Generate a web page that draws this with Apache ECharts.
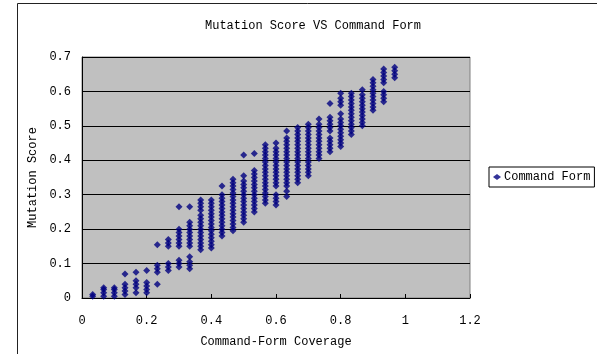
<!DOCTYPE html>
<html>
<head>
<meta charset="utf-8">
<script src="https://cdn.jsdelivr.net/npm/echarts@6/dist/echarts.min.js"></script>
<style>
  html, body { margin: 0; padding: 0; background: #fff; }
  #main_chart { width: 597px; height: 354px; }
</style>
</head>
<body>
<div id="main_chart"></div>
<script>
// command-form coverage of each column (k/30)
var coverage = [0.033, 0.067, 0.1, 0.133, 0.167, 0.2, 0.233, 0.267, 0.3, 0.333,
                0.367, 0.4, 0.433, 0.467, 0.5, 0.533, 0.567, 0.6, 0.633, 0.667,
                0.7, 0.733, 0.767, 0.8, 0.833, 0.867, 0.9, 0.933, 0.967];

// mutation scores, bottom to top
var scores = [
    [0.005, 0.01],
    [0.005, 0.015, 0.025, 0.03],
    [0.005, 0.015, 0.025, 0.03],
    [0.01, 0.02, 0.03, 0.04, 0.07],
    [0.015, 0.03, 0.04, 0.05, 0.075],
    [0.015, 0.025, 0.035, 0.045, 0.08],
    [0.04, 0.075, 0.085, 0.095, 0.155],
    [0.08, 0.09, 0.1, 0.15, 0.16, 0.17],
    [0.09, 0.1, 0.11, 0.15, 0.16, 0.17, 0.18, 0.19, 0.2, 0.265],
    [0.085, 0.095, 0.105, 0.12, 0.15, 0.16, 0.17, 0.18, 0.19, 0.2, 0.21, 0.22, 0.265],
    [0.14, 0.15, 0.16, 0.17, 0.18, 0.19, 0.2, 0.21, 0.22, 0.23, 0.24, 0.255, 0.265, 0.275, 0.285],
    [0.145, 0.155, 0.165, 0.175, 0.185, 0.195, 0.205, 0.215, 0.225, 0.235, 0.245, 0.255, 0.265, 0.275, 0.285],
    [0.18, 0.19, 0.2, 0.21, 0.22, 0.23, 0.24, 0.25, 0.26, 0.27, 0.28, 0.29, 0.3, 0.325],
    [0.195, 0.205, 0.215, 0.225, 0.235, 0.245, 0.255, 0.265, 0.275, 0.285, 0.295, 0.305, 0.315, 0.325, 0.335, 0.345],
    [0.22, 0.23, 0.24, 0.25, 0.26, 0.27, 0.28, 0.29, 0.3, 0.31, 0.32, 0.33, 0.34, 0.355, 0.415],
    [0.25, 0.26, 0.27, 0.28, 0.29, 0.3, 0.31, 0.32, 0.33, 0.34, 0.35, 0.36, 0.37, 0.42],
    [0.275, 0.285, 0.295, 0.305, 0.315, 0.325, 0.335, 0.345, 0.355, 0.365, 0.375, 0.385, 0.395, 0.405, 0.415, 0.425, 0.435, 0.445],
    [0.27, 0.28, 0.29, 0.3, 0.325, 0.335, 0.345, 0.355, 0.365, 0.375, 0.385, 0.395, 0.405, 0.415, 0.425, 0.435, 0.45],
    [0.295, 0.31, 0.325, 0.335, 0.345, 0.355, 0.365, 0.375, 0.385, 0.395, 0.405, 0.415, 0.425, 0.435, 0.445, 0.455, 0.465, 0.485],
    [0.335, 0.345, 0.355, 0.365, 0.375, 0.385, 0.395, 0.405, 0.415, 0.425, 0.435, 0.445, 0.455, 0.465, 0.475, 0.485, 0.495],
    [0.355, 0.365, 0.375, 0.385, 0.395, 0.405, 0.415, 0.425, 0.435, 0.445, 0.455, 0.465, 0.475, 0.485, 0.495, 0.505],
    [0.405, 0.415, 0.425, 0.435, 0.445, 0.455, 0.465, 0.475, 0.485, 0.495, 0.505, 0.52],
    [0.425, 0.435, 0.445, 0.455, 0.465, 0.485, 0.495, 0.505, 0.515, 0.525, 0.565],
    [0.44, 0.45, 0.46, 0.47, 0.48, 0.49, 0.5, 0.51, 0.52, 0.535, 0.56, 0.57, 0.58, 0.595],
    [0.475, 0.485, 0.495, 0.505, 0.515, 0.525, 0.535, 0.545, 0.555, 0.565, 0.575, 0.585, 0.595],
    [0.5, 0.51, 0.52, 0.53, 0.54, 0.55, 0.56, 0.57, 0.58, 0.59, 0.605],
    [0.545, 0.555, 0.565, 0.575, 0.585, 0.595, 0.605, 0.615, 0.625, 0.635],
    [0.57, 0.58, 0.59, 0.6, 0.625, 0.635, 0.645, 0.655, 0.665],
    [0.64, 0.65, 0.66, 0.67]
];

var xTicks = ['0', '0.2', '0.4', '0.6', '0.8', '1', '1.2'];
var yTicks = ['0', '0.1', '0.2', '0.3', '0.4', '0.5', '0.6', '0.7'];

var seriesName = 'Command Form';
var fontName = '"Liberation Mono", "DejaVu Sans Mono", monospace';

var points = [];
for(var i = 0; i < coverage.length; i++){
    for(var j = 0; j < scores[i].length; j++){
        points.push([coverage[i], scores[i][j]]);
    }
}

var chartOpt = {
    backgroundColor: '#fff',
    animation: false,
    textStyle: { fontFamily: fontName, color: '#000' },
    title: {
        text: 'Mutation Score VS Command Form',
        left: 308,
        textAlign: 'center',
        top: 15,
        textStyle: { fontFamily: fontName, fontSize: 12, fontWeight: 'normal', color: '#000' }
    },
    legend: {
        data: [seriesName],
        left: 489,
        top: 167,
        padding: [4, 4, 4, 4],
        itemWidth: 8,
        itemHeight: 6,
        itemGap: 4,
        icon: 'diamond',
        borderColor: '#000',
        borderWidth: 1,
        backgroundColor: '#fff',
        textStyle: { fontFamily: fontName, fontSize: 12, color: '#000', padding: [0, 0, 0, -2] }
    },
    grid: {
        show: true,
        left: 82, right: 127, top: 57, bottom: 56,
        backgroundColor: '#c0c0c0',
        borderColor: '#808080',
        borderWidth: 1
    },
    xAxis: {
        type: 'value',
        min: 0, max: 1.2, interval: 0.2,
        name: 'Command-Form Coverage',
        nameLocation: 'middle',
        nameGap: 38,
        nameTextStyle: { fontFamily: fontName, fontSize: 12, color: '#000' },
        axisLine: { show: true, lineStyle: { color: '#000', width: 1 } },
        axisTick: { show: true, inside: true, length: 4, lineStyle: { color: '#000' } },
        axisLabel: {
            margin: 17,
            fontFamily: fontName, fontSize: 12, color: '#000',
            formatter: function(v){ return xTicks[Math.round(v / 0.2)]; }
        },
        splitLine: { show: false }
    },
    yAxis: {
        type: 'value',
        min: 0, max: 0.7, interval: 0.1,
        name: 'Mutation Score',
        nameLocation: 'middle',
        nameGap: 42,
        nameTextStyle: { fontFamily: fontName, fontSize: 12, color: '#000' },
        axisLine: { show: true, lineStyle: { color: '#000', width: 1 } },
        axisTick: { show: false },
        axisLabel: {
            margin: 11,
            fontFamily: fontName, fontSize: 12, color: '#000',
            formatter: function(v){ return yTicks[Math.round(v / 0.1)]; }
        },
        splitLine: { show: true, lineStyle: { color: '#000', width: 1 } }
    },
    series: [{
        name: seriesName,
        type: 'scatter',
        symbol: 'diamond',
        symbolSize: 7,
        itemStyle: { color: '#000080' },
        data: points
    }],
    graphic: [{
        type: 'rect',
        shape: { x: 17.5, y: 3.5, width: 700, height: 500 },
        style: { fill: 'none', stroke: '#222', lineWidth: 1 },
        silent: true
    }]
};

var main_chart = echarts.init(document.getElementById('main_chart'));
main_chart.setOption(chartOpt);
</script>
</body>
</html>
